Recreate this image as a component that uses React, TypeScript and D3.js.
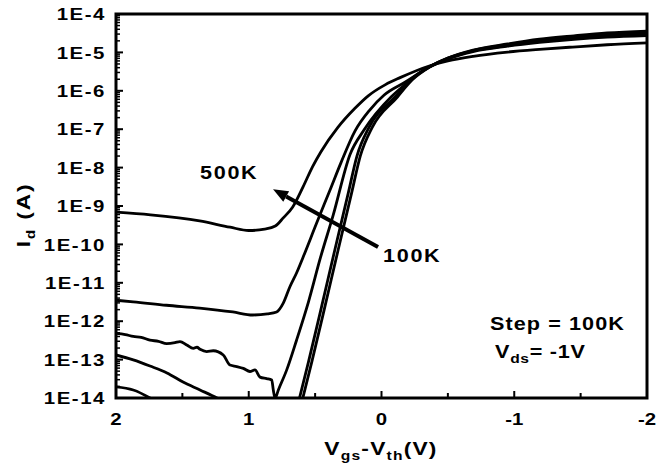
import React from 'react';
import * as d3 from 'd3';

// ---- axis / tick data ----
const yDecades = [-14, -13, -12, -11, -10, -9, -8, -7, -6, -5, -4];
const yTickLabels = ['1E-14', '1E-13', '1E-12', '1E-11', '1E-10', '1E-9', '1E-8', '1E-7', '1E-6', '1E-5', '1E-4'];
const xTicks = [2, 1, 0, -1, -2];
const xTickLabels = ['2', '1', '0', '-1', '-2'];
const xMinorTicks = [1.5, 0.5, -0.5, -1.5];

type P = [number, number] | null;

// ---- series: [Vgs-Vth (V), Id (A)] ----
const curve500K: P[] = [
  [2.0, 6.9e-10], [1.74, 5.9e-10], [1.37, 4.1e-10], [1.14, 2.8e-10], [1.0, 2.3e-10],
  [0.88, 2.5e-10], [0.8, 3.0e-10], [0.74, 4.9e-10], [0.67, 9.3e-10], [0.59, 3.2e-9],
  [0.52, 1.05e-8], [0.456, 2.6e-8], [0.33, 1.1e-7], [0.2, 3.5e-7], [0.1, 7.4e-7],
  [-0.03, 1.45e-6], [-0.14, 2.2e-6], [-0.365, 4.5e-6], [-0.5, 6.0e-6], [-0.69, 7.9e-6],
  [-0.95, 1.02e-5], [-1.19, 1.2e-5], [-1.44, 1.38e-5], [-1.7, 1.58e-5], [-2.0, 1.76e-5],
];

const curve400K: P[] = [
  [2.0, 3.5e-12], [1.87, 3.2e-12], [1.62, 2.6e-12], [1.37, 2.2e-12], [1.12, 1.74e-12],
  [0.97, 1.45e-12], [0.86, 1.55e-12], [0.79, 1.74e-12], [0.74, 2.95e-12], [0.69, 7.9e-12],
  [0.64, 1.8e-11], [0.59, 4.7e-11], [0.49, 3.5e-10], [0.39, 2.5e-9], [0.305, 1.35e-8],
  [0.2, 8.9e-8], [0.087, 3.2e-7], [-0.02, 7.8e-7], [-0.18, 1.7e-6], [-0.365, 4.2e-6],
  [-0.5, 6.8e-6], [-0.69, 1.05e-5], [-0.95, 1.45e-5], [-1.19, 1.82e-5], [-1.45, 2.2e-5],
  [-1.7, 2.5e-5], [-2.0, 2.75e-5],
];

const curve300K: P[] = [
  [2.0, 4.8e-13], [1.93, 4.5e-13], [1.87, 4.0e-13], [1.81, 3.8e-13], [1.744, 3.2e-13],
  [1.68, 3.0e-13], [1.618, 2.6e-13], [1.556, 2.75e-13], [1.518, 2.95e-13], [1.467, 2.4e-13],
  [1.418, 1.95e-13], [1.39, 2.1e-13], [1.367, 1.86e-13], [1.317, 1.62e-13], [1.267, 1.7e-13],
  [1.192, 1.32e-13], [1.141, 7.2e-14], [1.091, 6.6e-14], [1.041, 5.9e-14], [0.991, 4.9e-14],
  [0.953, 5.4e-14], [0.915, 3.5e-14], [0.865, 3.2e-14], [0.827, 2.95e-14], [0.815, 1.62e-14],
  [0.802, 9.8e-15], [0.777, 1.62e-14], [0.714, 5.4e-14], [0.64, 3.2e-13], [0.55, 3.2e-12],
  [0.46, 4.5e-11], [0.365, 5.6e-10], [0.237, 2.2e-8], [0.132, 9.5e-8], [-0.072, 6.9e-7],
  [-0.192, 1.6e-6], [-0.365, 4.3e-6], [-0.5, 6.9e-6], [-0.69, 1.1e-5], [-0.95, 1.5e-5],
  [-1.19, 1.95e-5], [-1.45, 2.35e-5], [-1.7, 2.75e-5], [-2.0, 3.1e-5],
];

const curve200K: P[] = [
  [2.0, 1.32e-13], [1.87, 9.8e-14], [1.744, 6.8e-14], [1.616, 4.5e-14], [1.495, 2.6e-14],
  [1.367, 1.62e-14], [1.239, 1.0e-14], [1.14, 6.6e-15], null,
  [0.625, 7.9e-15], [0.55, 8.7e-14], [0.45, 2.5e-12], [0.35, 7.6e-11], [0.25, 2.2e-9],
  [0.185, 2.0e-8], [0.094, 1.12e-7], [-0.102, 6.9e-7], [-0.215, 1.9e-6], [-0.365, 4.3e-6],
  [-0.5, 7.1e-6], [-0.69, 1.12e-5], [-0.95, 1.58e-5], [-1.19, 2.1e-5], [-1.45, 2.5e-5],
  [-1.7, 2.95e-5], [-2.0, 3.4e-5],
];

const curve100K: P[] = [
  [2.0, 1.95e-14], [1.87, 1.62e-14], [1.744, 1.0e-14], [1.67, 6.9e-15], null,
  [0.6, 7.9e-15], [0.525, 8.7e-14], [0.425, 2.5e-12], [0.325, 7.6e-11], [0.225, 2.2e-9],
  [0.16, 2.0e-8], [0.07, 1.12e-7], [-0.12, 6.9e-7], [-0.23, 1.9e-6], [-0.365, 4.2e-6],
  [-0.5, 7.1e-6], [-0.69, 1.15e-5], [-0.95, 1.66e-5], [-1.19, 2.2e-5], [-1.45, 2.7e-5],
  [-1.7, 3.2e-5], [-2.0, 3.6e-5],
];

const seriesList = [curve100K, curve200K, curve300K, curve400K, curve500K];

// annotation arrow (data coords): tail near "100K", head near "500K"
const arrowTail: [number, number] = [0.026, 8.5e-11];
const arrowHead: [number, number] = [0.817, 2.75e-9];

const W = 670, H = 466;
const L = 116, R = 647, T = 14, B = 398;
const FONT = '"Liberation Sans", Arial, Helvetica, sans-serif';
const SX = 1.2;

function WideText(props: {
  x: number; y: number; size: number; anchor?: 'start' | 'middle' | 'end';
  ls?: number; rotate?: number; dy?: string; children: React.ReactNode;
}) {
  const { x, y, size, anchor = 'start', ls = 1.2, rotate = 0, dy, children } = props;
  return (
    <g transform={`translate(${x},${y}) rotate(${rotate}) scale(${SX},1)`}>
      <text x={0} y={0} dy={dy} textAnchor={anchor} fontSize={size} letterSpacing={ls}
        fontFamily={FONT} fontWeight={700} fill="#000">
        {children}
      </text>
    </g>
  );
}

export default function App() {
  const x = d3.scaleLinear().domain([2, -2]).range([L, R]);
  const y = d3.scaleLog().domain([1e-14, 1e-4]).range([B, T]);

  const line = d3
    .line<P>()
    .defined((d) => d !== null)
    .x((d) => x((d as [number, number])[0]))
    .y((d) => y((d as [number, number])[1]))
    .curve(d3.curveMonotoneX);

  const minorY: number[] = [];
  yDecades.slice(0, -1).forEach((d) => {
    for (let m = 2; m <= 9; m++) minorY.push(m * Math.pow(10, d));
  });

  const ax = x(arrowTail[0]), ay = y(arrowTail[1]);
  const hx = x(arrowHead[0]), hy = y(arrowHead[1]);
  const ang = Math.atan2(hy - ay, hx - ax);
  const headLen = 15, headW = 6;
  const bx = hx - headLen * Math.cos(ang), by = hy - headLen * Math.sin(ang);
  const px = -Math.sin(ang), py = Math.cos(ang);
  const headPts = `${hx},${hy} ${bx + px * headW},${by + py * headW} ${bx - px * headW},${by - py * headW}`;

  return (
    <svg width={W} height={H} style={{ position: 'absolute', left: 0, top: 0, background: '#fff' }}>
      <defs>
        <clipPath id="plotClip">
          <rect x={L} y={T} width={R - L} height={B - T} />
        </clipPath>
      </defs>
      <rect x={0} y={0} width={W} height={H} fill="#fff" />

      {/* curves */}
      <g clipPath="url(#plotClip)">
        {seriesList.map((s, i) => (
          <path key={i} d={line(s) || ''} fill="none" stroke="#000" strokeWidth={2.8} strokeLinejoin="round" />
        ))}
      </g>

      {/* y ticks */}
      {yDecades.map((d) => (
        <line key={'yt' + d} x1={L} x2={L + 7} y1={y(Math.pow(10, d))} y2={y(Math.pow(10, d))} stroke="#000" strokeWidth={2} />
      ))}
      {minorY.map((v, i) => (
        <line key={'ym' + i} x1={L} x2={L + 4} y1={y(v)} y2={y(v)} stroke="#000" strokeWidth={1.5} />
      ))}
      {yDecades.map((d, i) => (
        <WideText key={'yl' + d} x={106} y={y(Math.pow(10, d))} dy="0.36em" anchor="end" size={17} ls={1.3}>
          {yTickLabels[i]}
        </WideText>
      ))}

      {/* x ticks */}
      {xTicks.map((v) => (
        <line key={'xt' + v} x1={x(v)} x2={x(v)} y1={B} y2={B - 7} stroke="#000" strokeWidth={2} />
      ))}
      {xMinorTicks.map((v) => (
        <line key={'xm' + v} x1={x(v)} x2={x(v)} y1={B} y2={B - 5} stroke="#000" strokeWidth={2} />
      ))}
      {xTicks.map((v, i) => (
        <WideText key={'xl' + v} x={x(v)} y={425} anchor="middle" size={17} ls={0}>
          {xTickLabels[i]}
        </WideText>
      ))}

      {/* frame */}
      <rect x={L} y={T} width={R - L} height={B - T} fill="none" stroke="#000" strokeWidth={3} />

      {/* axis titles */}
      <WideText x={381} y={455} anchor="middle" size={19} ls={1}>
        V<tspan fontSize={13} dy={5}>gs</tspan>
        <tspan dy={-5}>-V</tspan>
        <tspan fontSize={13} dy={5}>th</tspan>
        <tspan dy={-5}>(V)</tspan>
      </WideText>
      <WideText x={30} y={215} rotate={-90} anchor="middle" size={19} ls={1.5}>
        I<tspan fontSize={13} dy={5}>d</tspan>
        <tspan dy={-5}> (A)</tspan>
      </WideText>

      {/* annotations */}
      <line x1={ax} y1={ay} x2={bx} y2={by} stroke="#000" strokeWidth={4} />
      <polygon points={headPts} fill="#000" />
      <WideText x={200} y={179} size={18} ls={1.4}>500K</WideText>
      <WideText x={383} y={262} size={18} ls={1.4}>100K</WideText>
      <WideText x={490} y={330} size={18} ls={0.9}>Step = 100K</WideText>
      <WideText x={495} y={358} size={18} ls={0.6}>
        V<tspan fontSize={13} dy={5}>ds</tspan>
        <tspan dy={-5}>= -1V</tspan>
      </WideText>
    </svg>
  );
}
